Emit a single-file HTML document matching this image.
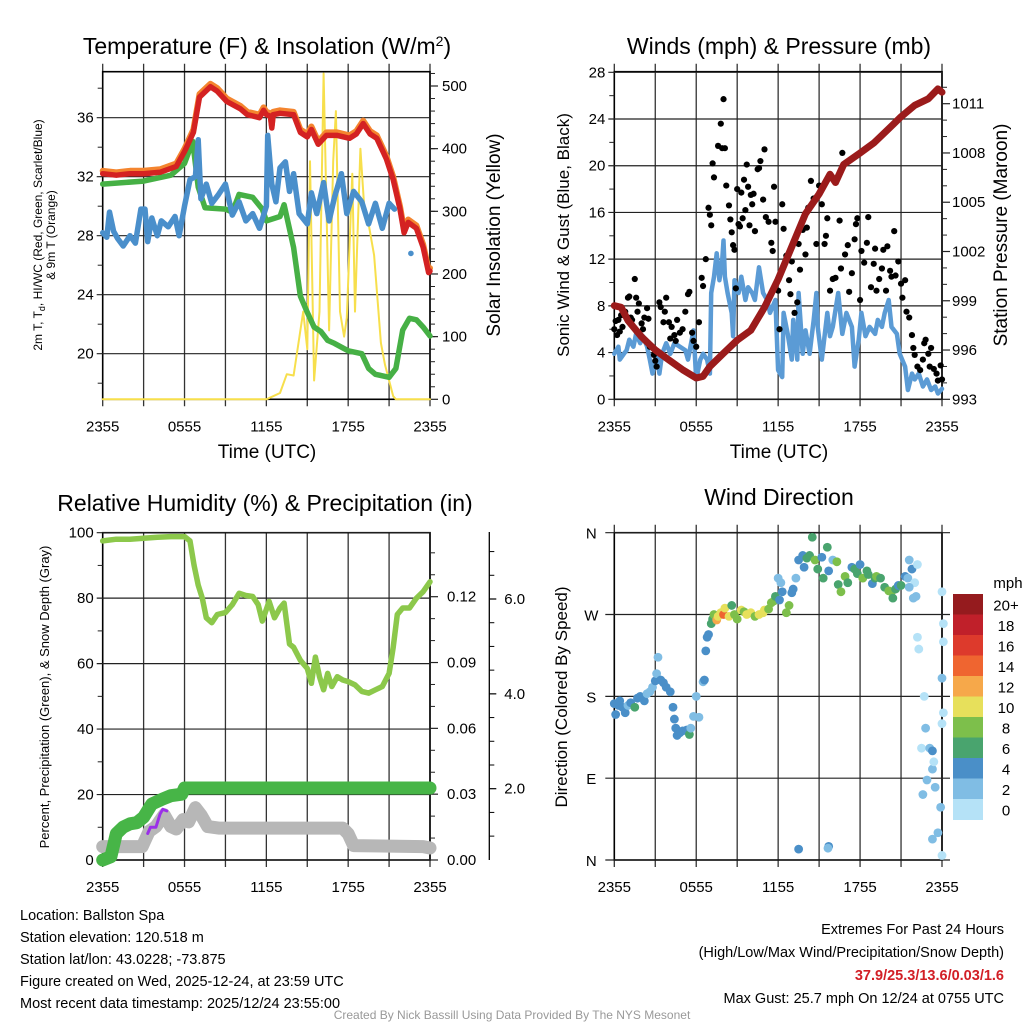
<!DOCTYPE html>
<html><head><meta charset="utf-8"><style>
html,body{margin:0;padding:0;background:#fff;}
svg{display:block;font-family:"Liberation Sans",sans-serif;}
</style></head><body>
<svg id="svg" width="1024" height="1024" viewBox="0 0 1024 1024">
<g id="bg"></g>
<text x="267" y="54" font-size="23" text-anchor="middle">Temperature (F) &amp; Insolation (W/m<tspan dy="-8" font-size="14">2</tspan><tspan dy="8">)</tspan></text>
<text x="779" y="54" font-size="23" text-anchor="middle">Winds (mph) &amp; Pressure (mb)</text>
<text x="265" y="511" font-size="23" text-anchor="middle">Relative Humidity (%) &amp; Precipitation (in)</text>
<text x="779" y="505" font-size="23" text-anchor="middle">Wind Direction</text>
<text x="267" y="458" font-size="19" text-anchor="middle">Time (UTC)</text>
<text x="779" y="458" font-size="19" text-anchor="middle">Time (UTC)</text>
<text transform="translate(42,235) rotate(-90)" font-size="12" text-anchor="middle">2m T, T<tspan dy="3" font-size="9">d</tspan><tspan dy="-3">, HI/WC (Red, Green, Scarlet/Blue)</tspan></text>
<text transform="translate(55,235) rotate(-90)" font-size="12" text-anchor="middle">&amp; 9m T (Orange)</text>
<text transform="translate(500,235) rotate(-90)" font-size="19" text-anchor="middle">Solar Insolation (Yellow)</text>
<text transform="translate(569,235) rotate(-90)" font-size="17" text-anchor="middle">Sonic Wind &amp; Gust (Blue, Black)</text>
<text transform="translate(1007,235) rotate(-90)" font-size="19" text-anchor="middle">Station Pressure (Maroon)</text>
<text transform="translate(49,697) rotate(-90)" font-size="13" text-anchor="middle">Percent, Precipitation (Green), &amp; Snow Depth (Gray)</text>
<text transform="translate(567,697) rotate(-90)" font-size="17" text-anchor="middle">Direction (Colored By Speed)</text>
<g font-size="14.5">
<text x="20" y="920">Location: Ballston Spa</text>
<text x="20" y="942">Station elevation: 120.518 m</text>
<text x="20" y="964">Station lat/lon: 43.0228; -73.875</text>
<text x="20" y="986">Figure created on Wed, 2025-12-24, at 23:59 UTC</text>
<text x="20" y="1008">Most recent data timestamp: 2025/12/24 23:55:00</text>
</g>
<g font-size="14.5" text-anchor="end">
<text x="1004" y="934">Extremes For Past 24 Hours</text>
<text x="1004" y="957">(High/Low/Max Wind/Precipitation/Snow Depth)</text>
<text x="1004" y="980" fill="#d21f26" font-weight="bold">37.9/25.3/13.6/0.03/1.6</text>
<text x="1004" y="1003">Max Gust: 25.7 mph On 12/24 at 0755 UTC</text>
</g>
<text x="512" y="1019" font-size="12" fill="#999" text-anchor="middle">Created By Nick Bassill Using Data Provided By The NYS Mesonet</text>
<g id="plots"></g>
</svg>
<script>
// ---------- DATA ----------
const xTickLabels = ["2355","0555","1155","1755","2355"];
// Panel 1
const tempHours = [0,1,2,3,4.2,5.4,6,6.65,7.1,7.9,8.4,9.1,10.1,10.6,11.5,11.8,12,12.3,12.4,12.5,13,14,14.5,15,15.3,15.8,16.4,17.2,18.1,18.6,19.1,19.6,20.1,20.8,21.3,21.8,22.1,22.4,23,23.5,23.9,24];
const tempVals  = [32.2,32.1,32.2,32.2,32.3,32.7,33.7,35,37.4,38.1,37.8,37.1,36.6,36.2,36,36.5,36.2,36.1,35.3,36.2,36.3,36.2,35,34.7,35.2,34.2,34.8,34.8,34.6,34.9,35.6,34.9,34.6,33.2,31.8,29.8,28.2,28.9,28.5,27.2,25.5,25.6];
const dewHours = [0,3,5,6,6.6,7,7.5,9,9.5,10,11,11.7,12,13,13.3,14,14.3,14.5,15,15.5,16,16.5,17,18,19,19.5,20,20.5,21,21.5,22,22.5,23,23.5,24];
const dewVals  = [31.5,31.7,32.1,32.9,34.4,31.3,29.9,29.8,29.6,30.8,30.6,29.8,29.0,29.3,30.1,27.2,25.2,23.9,22.8,21.8,21.5,20.9,20.7,20.2,20.0,19.0,18.6,18.5,18.4,19.0,21.6,22.4,22.3,21.8,21.2];
const wcHours = [0,0.3,0.5,0.8,1.1,1.5,2,2.4,2.8,3.1,3.3,3.6,4,4.3,4.8,5.3,5.6,6,6.4,6.8,7,7.2,7.6,8,8.5,9,9.5,10,10.5,11,11.5,12,12.1,12.4,12.7,13,13.4,13.7,14,14.4,15,15.3,15.7,16.2,16.6,17,17.5,17.9,18.4,19,19.5,20,20.5,21,21.4];
const wcVals  = [28.2,27.9,29.6,28.3,27.8,27.3,28,27.5,29.8,29.8,27.6,29.2,28,29,28.6,29.3,28,30,31.8,32,34.5,30.5,31.5,30.2,30.8,31.5,29.4,30.3,29,29.5,28.5,30,34.8,31.5,30.3,32.6,33,31,32.2,29.5,28.8,30.9,29.5,31.6,29,30.6,32.2,29.5,31,30.3,28.8,30.2,28.5,30.2,29.8];
const solarHours = [0,12,12.5,13,13.5,14,14.7,15,15.2,15.5,15.9,16.2,16.6,16.9,17.1,17.4,17.7,17.9,18.3,18.5,18.9,19.2,19.5,19.9,20.4,20.7,21,21.3,21.5,24];
const solarVals  = [0,0,5,10,40,38,140,80,380,30,140,520,110,380,460,140,100,130,360,140,400,300,280,230,90,55,30,5,0,0];
// Panel 2
const windHours = [0,0.3,0.4,0.7,0.9,1.1,1.4,1.6,1.9,2.1,2.4,2.6,2.8,3.1,3.3,3.5,3.8,4.1,4.4,4.8,5.2,5.4,5.8,6.0,6.3,6.5,6.8,7.0,7.1,7.3,7.5,7.7,7.9,8.0,8.1,8.3,8.6,8.7,8.8,9.1,9.3,9.6,9.8,10.1,10.3,10.6,10.9,11.2,11.4,11.8,12.0,12.3,12.4,12.7,13.0,13.1,13.4,13.5,13.8,14.0,14.3,14.6,14.8,14.9,15.2,15.6,15.8,16.0,16.4,16.7,17.0,17.4,17.6,17.9,18.1,18.4,18.7,19.1,19.3,19.6,19.8,20.1,20.3,20.7,20.9,21.3,21.5,21.8,22.0,22.3,22.6,22.9,23.2,23.5,23.7,24];
const windVals  = [3.9,4.5,3.4,3.9,4.2,5.1,4.5,5.6,4.8,5.4,4.5,3.4,2.2,3.9,2.2,3.9,4.8,3.9,4.8,4.5,4.2,3.4,5.9,1.7,3.4,3.9,3.4,2.2,9.1,10.5,12.5,10.2,11.9,13.6,10.5,9.1,7.4,5.4,10.2,9.1,10.5,8.5,9.6,9.1,8.5,11.3,9.1,8.5,7.4,8.5,2.5,1.9,7.4,5.6,3.4,6.8,3.4,9.1,3.9,5.9,3.9,6.8,9.1,6.2,3.4,7.4,5.4,6.2,9.1,5.6,7.4,6.2,2.8,5.1,7.4,5.4,6.2,5.6,6.8,6.2,7.4,8.5,6.2,5.6,3.9,2.8,0.8,2.2,1.7,2.2,1.1,1.7,0.8,1.1,0.5,0.9];
const gustHours = [0,0.1,0.2,0.3,0.4,0.5,0.6,0.8,1,1.1,1.2,1.3,1.5,1.6,1.7,1.8,2,2.1,2.2,2.4,2.5,2.6,2.9,3,3.1,3.3,3.4,3.6,3.7,3.8,4,4.1,4.2,4.4,4.5,4.6,4.8,5,5.2,5.4,5.5,5.7,5.8,6,6.2,6.4,6.5,6.7,6.9,7,7.1,7.2,7.3,7.6,7.8,7.9,8,8.1,8.2,8.4,8.5,8.6,8.7,8.8,8.9,9,9.1,9.2,9.3,9.4,9.5,9.6,9.7,9.8,9.9,10,10.1,10.2,10.3,10.5,10.6,10.7,10.9,11,11.1,11.3,11.5,11.6,11.7,11.8,12,12.1,12.3,12.4,12.6,12.8,12.9,13,13.2,13.4,13.5,13.6,13.8,14,14.1,14.2,14.4,14.6,14.8,15,15.2,15.4,15.5,15.6,15.8,16,16.2,16.5,16.6,16.7,16.9,17.1,17.2,17.4,17.6,17.7,17.8,18,18.1,18.3,18.5,18.6,18.8,19,19.1,19.2,19.4,19.6,19.7,19.9,20,20.2,20.3,20.5,20.6,20.8,21,21.1,21.3,21.4,21.6,21.8,21.9,22,22.2,22.4,22.6,22.7,22.8,23,23.1,23.2,23.4,23.6,23.7,23.9,24];
const gustVals  = [6,6.7,5.5,6.8,5.8,7.2,6.2,7.5,8.7,8.8,7,6.8,10.3,8.7,7.5,8.2,6.5,6,7,7.8,6.9,4.5,3.8,3.3,2.8,8.3,7.9,6.6,7.5,8.7,6.6,5.2,6.2,5.5,5,6.8,5.7,6,7.5,9,9.2,5.7,5,4.5,6.6,10.4,9.7,12,16.4,15.8,14.9,20.2,19,21.7,23.6,21.5,25.7,21.5,18.3,16.6,15.4,14.3,13.2,12.8,9.5,18,15,14.8,17.7,15.5,18.8,16.2,20.1,18.2,14.9,17.5,16.7,17.6,14.4,19.7,19.8,20.4,17.1,21.4,15.6,15.2,13.4,12.7,18.2,15.2,9.3,6,16.7,14.6,12.3,10.2,9,11.8,7.4,8.3,13.3,11.1,14.5,12.4,14.7,16.4,18.7,17.2,13.3,18.3,16.7,13.3,14,15.5,9.3,10.3,10.4,15.3,11.2,21.1,12.4,13.2,9.2,10.8,13.7,15,15.5,8.5,12.7,11.7,13.4,15.6,9.6,11.6,12.9,9.3,10.3,11.2,12.8,9.3,13.1,11,10.5,14.4,10.6,11.8,9.9,8.7,10.2,7.5,7,5.5,4.4,3.8,2.8,2.5,3.4,4.8,5.1,3.9,2.8,4.4,2.6,2.2,1.6,2.9,1.7];
const presHours = [0,0.5,1,2,3,4,5,6,6.5,7,8,9,10,11,12,13,14,15,15.8,16.2,16.8,18,19,20,21,22,23,23.7,24];
const presVals  = [998.7,998.6,997.8,996.8,996,995.4,994.8,994.3,994.4,995,995.8,996.6,997.2,998.6,1000.3,1002.3,1004.3,1005.5,1006.7,1006.2,1007.3,1008,1008.6,1009.4,1010.2,1010.9,1011.3,1011.9,1011.7];
// Panel 3
const rhHours = [0,1,2,3,4,5,6,6.4,6.7,7,7.3,7.6,8,8.4,9,9.5,10,10.5,11,11.4,11.7,12.2,12.6,13,13.3,13.7,14,14.5,15,15.3,15.6,15.9,16.2,16.5,16.8,17.2,17.6,18,18.5,19,19.5,20,20.5,21,21.3,21.6,22,22.5,23,23.5,24];
const rhVals  = [97.5,98,98,98.3,98.6,98.8,98.8,97.5,90,84,80,74,72.5,75,75.6,78,81.5,80.8,80.5,78,73,79,74,77,78.5,66,65,61,58.5,54,62,56,52,57,53,56,55,54.5,53.5,51.5,51,52,53,57,65,75,77,77,80,82,85];
const precipHours = [0,0.6,1,1.5,2,2.5,3,3.6,4.4,5,5.8,6,24];
const precipVals  = [0,0.0015,0.012,0.015,0.0165,0.017,0.0195,0.0255,0.0278,0.0293,0.030,0.0328,0.0328];
const snowHours = [0,2.9,3.4,3.9,4.5,5,5.4,5.9,6.3,6.8,7.2,7.7,8.5,17.6,18,18.4,23.5,24];
const snowVals  = [0.78,0.78,1.1,1.2,1.45,1.2,1.15,1.35,1.3,1.6,1.45,1.2,1.17,1.17,1.05,0.8,0.78,0.75];
const purpleHours = [3.3,3.5,3.9,4.2,4.4,4.7];
const purpleVals  = [8.1,10,10,14,15.5,15];
// Panel 4
const dirHours = [0,0.1,0.3,0.4,0.6,0.8,1,1.2,1.5,1.7,1.9,2.2,2.4,2.6,2.8,3,3.1,3.2,3.4,3.6,3.8,4.1,4.3,4.4,4.5,4.6,4.8,5,5.3,5.5,5.6,5.8,6,6.2,6.5,6.6,6.7,6.8,6.9,7.1,7.2,7.3,7.5,7.6,7.8,8,8.1,8.4,8.6,8.8,9,9.3,9.5,9.7,10,10.3,10.6,10.9,11,11.3,11.5,11.7,11.8,12.1,12.2,12,12.3,12.6,12.8,13,13.1,13.3,13.5,13.8,13.9,14.1,14.3,14.5,14.7,14.9,15.2,15.3,15.6,15.7,16,16.3,16.4,16.6,16.9,17.1,17.4,17.6,17.8,18,18.2,18.5,18.6,18.9,19.1,19.2,19.5,19.8,20.1,20.3,20.4,20.6,20.8,21,21.3,21.5,21.6,21.8,21.9,22.1,22.2,22.3,22.5,22.7,22.8,23.1,23.3,23.5,23.7,23.9,24,23.3,22.9,23.4,22.6,23.3,24,24,24.1,24.1,24.1,24,13.5,15.7,15.65,22,22.2,21.6];
const dirVals  = [172,160,170,175,168,162,170,173,168,178,180,175,183,185,190,197,205,223,198,195,190,185,168,155,145,137,140,142,143,138,145,158,180,157,196,198,230,245,248,260,265,270,264,268,272,270,277,268,280,270,265,275,273,270,272,268,270,272,275,276,283,285,290,286,305,310,295,272,280,294,298,310,330,335,322,332,335,355,330,320,333,310,344,318,330,328,303,295,312,305,322,320,315,325,310,318,314,304,310,312,310,300,296,295,288,298,302,302,312,310,330,320,288,290,245,232,123,180,145,123,100,80,30,58,5,120,88,108,72,23,150,295,260,240,162,200,12,15,13,305,325,300];
const dirSpeeds = [4,4,4,4,4,4,3,4,6,4,4,4,3,3,3,4,3,3,4,4,4,4,4,4,4,4,4,4,4,6,3,3,3,3,3,4,4,4,4,6,6,8,12,10,10,14,10,10,6,8,8,10,8,10,10,8,10,10,10,8,8,8,6,4,2,2,4,8,8,4,4,2,4,4,4,6,6,6,8,6,4,6,6,4,2,8,6,8,8,6,4,6,6,4,8,6,6,4,6,8,6,6,8,8,6,6,4,6,4,2,2,4,2,2,0,0,0,0,2,2,2,2,2,2,0,4,2,0,2,2,0,0,0,0,0,2,4,4,2,0,0,2];
const colorbarLabels = ["20+","18","16","14","12","10","8","6","4","2","0"];
const colorbarColors = ["#951b1e","#c0202a","#dd3a2c","#ef6530","#f6a84a","#e7e05b","#7dbf4b","#49a46e","#4a8fc8","#80bde4","#b5e2f7"];

// ---------- DRAW ----------
const NS="http://www.w3.org/2000/svg";
const root=document.getElementById('plots');
function mk(tag,attrs,parent){const e=document.createElementNS(NS,tag);for(const k in attrs)e.setAttribute(k,attrs[k]);(parent||root).appendChild(e);return e;}
function lin(d0,d1,r0,r1){return v=>r0+(v-d0)/(d1-d0)*(r1-r0);}
function pathD(hs,vs,fx,fy){return hs.map((h,i)=>(i?'L':'M')+fx(h).toFixed(1)+' '+fy(vs[i]).toFixed(1)).join(' ');}
function txt(x,y,s,anchor,size,name){const t=mk('text',{x:x,y:y,'font-size':size||15,'text-anchor':anchor||'middle'});t.textContent=s;


return t;}

function frame(L,R,T,B,name,vlines){
  const g=mk('g',{});
  
  
  for(let i=0;i<=8;i++){const x=L+i*(R-L)/8;
    const l=mk('line',{x1:x,x2:x,y1:(vlines?T-8:T),y2:B+7,stroke:'#333','stroke-width':1.3},g);
    
    }
  const xl=[0,6,12,18,24];
  xl.forEach((h,i)=>{txt(L+h/24*(R-L),B+32,xTickLabels[i],'middle',15,'x-tick-label');});
  const r=mk('rect',{x:L,y:T,width:R-L,height:B-T,fill:'none',stroke:'#000','stroke-width':1.6},g);
  
  
  return g;
}
function yAxisLeft(L,R,fy,majors,minors,fmt,gridR){
  majors.forEach(v=>{const y=fy(v);mk('line',{x1:L-6,x2:gridR,y1:y,y2:y,stroke:'#222','stroke-width':1.2});
    txt(L-9,y+5,fmt(v),'end',15,'y-tick-label');});
  minors.forEach(v=>{const y=fy(v);mk('line',{x1:L-5,x2:L,y1:y,y2:y,stroke:'#222','stroke-width':1});});
}
function yAxisRight(R,fy,majors,minors,fmt,labelX){
  majors.forEach(v=>{const y=fy(v);mk('line',{x1:R,x2:R+8,y1:y,y2:y,stroke:'#222','stroke-width':1.2});
    txt(labelX||R+12,y+5,fmt(v),'start',15,'y2-tick-label');});
  minors.forEach(v=>{const y=fy(v);mk('line',{x1:R,x2:R+5,y1:y,y2:y,stroke:'#222','stroke-width':1});});
}
function range(a,b,s){const r=[];for(let v=a;v<=b+1e-9;v+=s)r.push(+v.toFixed(4));return r;}
function line(hs,vs,fx,fy,color,w,name){const p=mk('path',{d:pathD(hs,vs,fx,fy),fill:'none',stroke:color,'stroke-width':w,'stroke-linejoin':'round','stroke-linecap':'round'});


return p;}

// Panel 1
(function(){
  const L=102.7,R=430,T=71.7,B=399.3;
  frame(L,R,T,B,'temperature-panel',true);
  const fx=lin(0,24,L,R), fy=lin(20,36,353.7,117.7), fs=lin(0,500,399.3,86);
  yAxisLeft(L,R,fy,[20,24,28,32,36],[18,22,26,30,34,38],v=>String(v),R);
  yAxisRight(R,fs,[0,100,200,300,400,500],range(20,520,20),v=>String(v),R+12);
  line(solarHours,solarVals,fx,fs,'#f7df4c',2,'solar-insolation-line');
  line(dewHours,dewVals,fx,fy,'#46b045',5.5,'dewpoint-line');
  line(tempHours,tempVals.map(v=>v+0.2),fx,fy,'#f4852f',6,'temp-9m-line');
  line(tempHours,tempVals,fx,fy,'#d42222',5.5,'temp-2m-line');
  line(wcHours,wcVals,fx,fy,'#4a8fcb',5.5,'wind-chill-line');
  const c=mk('circle',{cx:fx(22.6),cy:fy(26.8),r:2.8,fill:'#4a8fcb'});
  
  
})();

// Panel 2
(function(){
  const L=614.3,R=942,T=71.7,B=399.3;
  frame(L,R,T,B,'winds-panel',true);
  const fx=lin(0,24,L,R), fy=lin(0,28,399.3,72.3), fp=lin(993,1011,399.3,103.7);
  yAxisLeft(L,R,fy,[0,4,8,12,16,20,24,28],range(2,26,4),v=>String(v),R);
  yAxisRight(R,fp,[993,996,999,1002,1005,1008,1011],range(994,1012,1).filter(v=>(v-993)%3),v=>String(v),R+10);
  line(windHours,windVals,fx,fy,'#5b9bd5',4.5,'sonic-wind-line');
  gustHours.forEach((h,i)=>{const c=mk('circle',{cx:fx(h),cy:fy(gustVals[i]),r:3.1,fill:'#000'});
    
    });
  line(presHours,presVals,fx,fp,'#9b1b1b',7,'pressure-line');
})();

// Panel 3
(function(){
  const L=102.7,R=430,T=532.7,B=860;
  frame(L,R,T,B,'humidity-panel',false);
  const fx=lin(0,24,L,R), fy=lin(0,100,860,532.7), fpr=lin(0,0.12,860,596.7), fsn=lin(2,6,788.7,599);
  yAxisLeft(L,R,fy,[0,20,40,60,80,100],range(10,90,20),v=>String(v),R);
  yAxisRight(R,fpr,[0,0.03,0.06,0.09,0.12],range(0.01,0.14,0.01).filter(v=>Math.round(v*100)%3),v=>v.toFixed(2),R+17);
  const ax=489.3;
  const a=mk('line',{x1:ax,x2:ax,y1:532,y2:860,stroke:'#000','stroke-width':1.3});
  
  
  [2,4,6].forEach(v=>{const y=fsn(v);mk('line',{x1:ax,x2:ax+7,y1:y,y2:y,stroke:'#000','stroke-width':1.2});
    txt(ax+15,y+5,v.toFixed(1),'start',15,'snow-tick-label');});
  range(1,7,0.5).filter(v=>v%2).forEach(v=>{const y=fsn(v);mk('line',{x1:ax,x2:ax+5,y1:y,y2:y,stroke:'#000','stroke-width':1});});
  line(snowHours,snowVals,fx,fsn,'#b7b7b7',13,'snow-depth-line');
  line(precipHours,precipVals,fx,fpr,'#47b547',13,'precipitation-line');
  line(purpleHours,purpleVals,fx,fy,'#9b30e8',3,'precip-rate-line');
  line(rhHours,rhVals,fx,fy,'#8cc84b',5.5,'relative-humidity-line');
})();

// Panel 4
(function(){
  const L=614.3,R=942,T=532.7,B=860;
  frame(L,R,T,B,'wind-direction-panel',true);
  const fx=lin(0,24,L,R), fy=lin(0,360,860,532.7);
  const dl=['N','E','S','W','N'];
  [0,90,180,270,360].forEach((v,i)=>{const y=fy(v);mk('line',{x1:L-9,x2:R+8,y1:y,y2:y,stroke:'#222','stroke-width':1.2});
    txt(L-23,y+6,dl[i],'middle',15,'direction-tick-label');});
  function col(s){let idx=Math.min(10,Math.floor(s/2));return colorbarColors[10-idx];}
  dirHours.forEach((h,i)=>{const c=mk('circle',{cx:fx(h),cy:fy(dirVals[i]),r:4.4,fill:col(dirSpeeds[i])});
    
    });
  const cbx=953,cby=594,bh=20.5;
  colorbarColors.forEach((c,i)=>{const r=mk('rect',{x:cbx,y:cby+i*bh,width:30,height:bh+0.5,fill:c});
    
    
    txt(1006,cby+i*bh+bh/2+6,colorbarLabels[i],'middle',15,'colorbar-label');});
  txt(1008,588,'mph','middle',15,'colorbar-title');
})();
</script>
</body></html>
